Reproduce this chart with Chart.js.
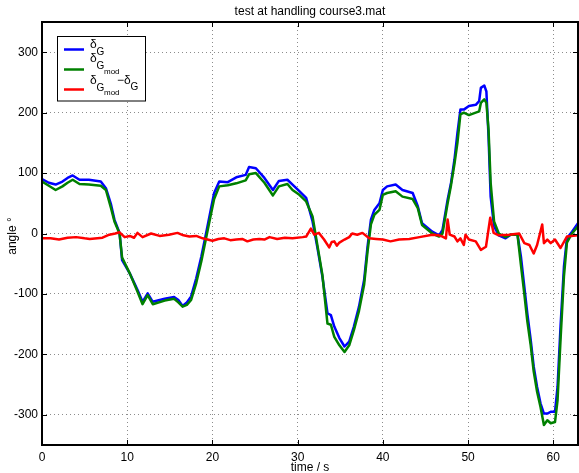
<!DOCTYPE html>
<html>
<head>
<meta charset="utf-8">
<script src="https://cdn.jsdelivr.net/npm/chart.js@4/dist/chart.umd.min.js"></script>
<style>
  html, body { margin: 0; padding: 0; background: #fff; }
  #wrap { width: 579px; height: 473px; position: relative; }
</style>
</head>
<body>
<div id="wrap"><canvas id="c" width="579" height="473"></canvas></div>
<script>
// steering angle run: time stamps (s) shared by the two angle traces
const timeSteer = [0, 0.8, 1.6, 2.4, 3.0, 3.6, 4.4, 5.5, 6.9, 7.5, 8.1, 8.5, 9.1, 9.4, 10.3, 11.2, 11.8, 12.4, 13.0, 14.4,
  15.5, 16.0, 16.5, 17.0, 17.5, 18.1, 18.7, 19.25, 19.8, 20.2, 20.8, 21.8, 22.8, 23.9, 24.3, 25.1, 26.1, 27.1, 27.8, 28.8,
  29.4, 30.2, 31.0, 31.75, 32.3, 32.9, 33.5, 33.9, 34.3, 34.9, 35.5, 36.05, 36.6, 37.2, 37.8, 38.2, 38.6, 39.0, 39.6, 40.0,
  40.5, 41.5, 42.3, 43.5, 44.1, 44.6, 45.8, 46.6, 47.0, 47.6, 48.0, 48.4, 48.75, 49.1, 49.5, 50.1, 50.9, 51.3, 51.5, 51.9,
  52.15, 52.4, 52.65, 53.05, 53.6, 54.4, 55.0, 55.8, 56.2, 56.6, 56.95, 57.35, 57.7, 58.1, 58.5, 58.9, 59.3, 59.7, 60.2, 60.5,
  60.85, 61.25, 61.6, 62.2, 62.9];

// measured steering angle delta_G (deg)
const deltaG = [90, 84, 81, 86, 92, 96, 89, 89, 86, 75, 48, 23, 1, -44, -66, -93, -113, -99, -113, -108,
  -105, -110, -120, -114, -104, -74, -38, 0, 39, 67, 86, 85, 93, 97, 110, 108, 92, 72, 87, 89,
  81, 70, 59, 20, -22, -71, -132, -135, -154, -173, -187, -179, -154, -121, -77, -22, 23, 39, 50, 72,
  78, 81, 72, 67, 45, 17, 3, -3, 6, 56, 84, 122, 166, 205, 205, 211, 213, 219, 241, 245,
  235, 161, 61, 12, -3, -8, -2, -2, -38, -88, -132, -176, -220, -254, -281, -298, -298, -295, -295, -254,
  -154, -55, -8, 3, 17];

// model steering angle delta_G_mod (deg)
const deltaGmod = [86, 79, 72, 78, 84, 89, 82, 81, 79, 72, 42, 20, 0, -40, -66, -96, -117, -102, -117, -111,
  -108, -114, -121, -118, -110, -82, -46, -8, 30, 57, 78, 80, 83, 88, 98, 100, 84, 63, 78, 82,
  72, 64, 53, 28, -18, -68, -149, -151, -171, -185, -196, -185, -160, -128, -85, -30, 15, 31, 39, 64,
  67, 70, 61, 57, 42, 14, 0, -5, 0, 50, 80, 115, 150, 197, 200, 196, 200, 202, 216, 222,
  216, 172, 84, 20, 0, -6, -2, -2, -52, -100, -145, -185, -228, -262, -287, -317, -309, -314, -312, -276,
  -176, -71, -15, 0, 12];

// difference delta_G_mod - delta_G: its own time stamps (s) and values (deg)
const timeDiff = [0, 1, 2, 3, 4, 5, 5.6, 7.1, 7.9, 8.6, 9.1, 9.7, 10.3, 10.8, 11.2, 11.8, 12.8, 13.8, 14.9, 15.9,
  16.6, 17.3, 18.1, 18.85, 20.0, 20.7, 21.4, 22.1, 22.8, 23.5, 24.1, 24.8, 25.5, 26.1, 26.7, 27.6, 28.5, 29.4, 30.6, 31.0,
  31.55, 31.95, 32.5, 33.1, 33.7, 34.0, 34.3, 34.6, 34.9, 35.5, 36.05, 36.4, 37.0, 37.6, 38.4, 39.2, 40.0, 40.9, 41.9, 43.1,
  44.3, 45.8, 46.5, 47.0, 47.4, 47.6, 47.85, 48.4, 48.75, 49.1, 49.5, 49.7, 50.1, 50.9, 51.5, 52.1, 52.6, 53.0, 53.6, 54.8,
  56.0, 56.6, 57.2, 57.7, 58.1, 58.7, 58.9, 59.3, 59.7, 60.2, 60.85, 61.6, 62.9];
const deltaDiff = [-8, -8, -10, -7, -6, -8, -9, -7, -2, 0, 2, -6, -4, -7, 1, -6, 0, -4, -2, 1,
  -3, -5, -4, -8, -12, -9, -8, -11, -10, -9, -13, -10, -9, -10, -6, -9, -7, -8, -6, -5,
  8, -2, 1, -10, -23, -14, -13, -20, -15, -10, -6, 0, -2, 1, -8, -9, -10, -13, -10, -9,
  -6, -2, -3, -5, -8, 23, -2, -5, -13, -8, -19, -2, -10, -13, -27, -22, 26, 1, -3, -2,
  0, -16, -19, -33, -19, 15, -16, -10, -16, -10, -24, -5, -3];

// axis ticks
const xTicks = [0, 10, 20, 30, 40, 50, 60];
const yTicks = [-300, -200, -100, 0, 100, 200, 300];

const FONT = '"Liberation Sans", Arial, Helvetica, sans-serif';
const pts = (xs, ys) => xs.map((t, i) => ({ x: t, y: ys[i] }));

// axes box, inward tick marks, title, axis titles and legend
const decorations = {
  id: 'decorations',
  afterDraw(chart) {
    const { ctx, chartArea: a, scales } = chart;
    const sx = scales.x, sy = scales.y;
    ctx.save();

    ctx.strokeStyle = '#000';
    ctx.lineWidth = 1;
    ctx.beginPath();
    xTicks.forEach(v => {
      const p = Math.round(sx.getPixelForValue(v)) + 0.5;
      ctx.moveTo(p, a.bottom); ctx.lineTo(p, a.bottom - 5);
      ctx.moveTo(p, a.top); ctx.lineTo(p, a.top + 5);
    });
    yTicks.forEach(v => {
      const p = Math.round(sy.getPixelForValue(v)) + 0.5;
      ctx.moveTo(a.left, p); ctx.lineTo(a.left + 5, p);
      ctx.moveTo(a.right, p); ctx.lineTo(a.right - 5, p);
    });
    ctx.stroke();

    ctx.lineWidth = 2;
    ctx.strokeRect(a.left, a.top, a.right - a.left, a.bottom - a.top);

    ctx.fillStyle = '#000';
    ctx.font = '12px ' + FONT;
    ctx.textAlign = 'center';
    ctx.textBaseline = 'alphabetic';
    ctx.fillText('test at handling course3.mat', (a.left + a.right) / 2, 15);
    ctx.fillText('time / s', (a.left + a.right) / 2, 471);

    ctx.save();
    ctx.translate(16, 236);
    ctx.rotate(-Math.PI / 2);
    ctx.fillText('angle °', 0, 0);
    ctx.restore();

    // legend box
    ctx.fillStyle = '#fff';
    ctx.fillRect(57.5, 36.5, 88, 64.5);
    ctx.lineWidth = 1;
    ctx.strokeStyle = '#000';
    ctx.strokeRect(57.5, 36.5, 88, 64.5);

    const samples = [['#0000ff', 49.5], ['#008000', 69.5], ['#ff0000', 89.5]];
    ctx.lineWidth = 2.5;
    samples.forEach(([c, yy]) => {
      ctx.strokeStyle = c;
      ctx.beginPath(); ctx.moveTo(64, yy); ctx.lineTo(84, yy); ctx.stroke();
    });

    ctx.fillStyle = '#000';
    ctx.textAlign = 'left';
    const txt = (s, x, y, size) => { ctx.font = size + 'px ' + FONT; ctx.fillText(s, x, y); };
    // entry 1: δ_G
    txt('δ', 90, 48, 12); txt('G', 96.5, 55, 10);
    // entry 2: δ_{G_mod}
    txt('δ', 90, 61.5, 12); txt('G', 96.5, 69, 10); txt('mod', 104, 74, 8);
    // entry 3: δ_{G_mod} − δ_G
    txt('δ', 90, 84, 12); txt('G', 96.5, 90.5, 10); txt('mod', 104, 95, 8);
    txt('−δ', 117, 84, 12); txt('G', 130.5, 90, 10);

    ctx.restore();
  }
};

const gridStyle = { color: 'rgba(0,0,0,0.45)', lineWidth: 1, drawTicks: false };

new Chart(document.getElementById('c'), {
  type: 'line',
  data: {
    datasets: [
      { label: 'δG', data: pts(timeSteer, deltaG), borderColor: '#0000ff', borderWidth: 2.5, order: 2 },
      { label: 'δGmod', data: pts(timeSteer, deltaGmod), borderColor: '#008000', borderWidth: 2.5, order: 1 },
      { label: 'δGmod−δG', data: pts(timeDiff, deltaDiff), borderColor: '#ff0000', borderWidth: 2.5, order: 0 }
    ]
  },
  options: {
    responsive: false,
    animation: false,
    devicePixelRatio: 1,
    parsing: true,
    elements: { point: { radius: 0 }, line: { tension: 0, fill: false, borderJoinStyle: 'round', borderCapStyle: 'round' } },
    layout: { padding: { top: 22, right: 1, left: 0, bottom: 0 } },
    plugins: { legend: { display: false }, tooltip: { enabled: false }, title: { display: false } },
    scales: {
      x: {
        type: 'linear', min: 0, max: 62.9,
        afterBuildTicks: s => { s.ticks = xTicks.map(v => ({ value: v })); },
        afterFit: s => { s.height = 28; },
        grid: gridStyle,
        border: { display: false, dash: [1, 3] },
        ticks: { color: '#000', font: { family: FONT, size: 12 }, padding: 5, maxRotation: 0, autoSkip: false }
      },
      y: {
        type: 'linear', min: -350, max: 350,
        afterBuildTicks: s => { s.ticks = yTicks.map(v => ({ value: v })); },
        afterFit: s => { s.width = 42; },
        grid: gridStyle,
        border: { display: false, dash: [1, 3] },
        ticks: { color: '#000', font: { family: FONT, size: 12 }, padding: 4, autoSkip: false,
                 callback: v => String(v) }
      }
    }
  },
  plugins: [decorations]
});
</script>
</body>
</html>
